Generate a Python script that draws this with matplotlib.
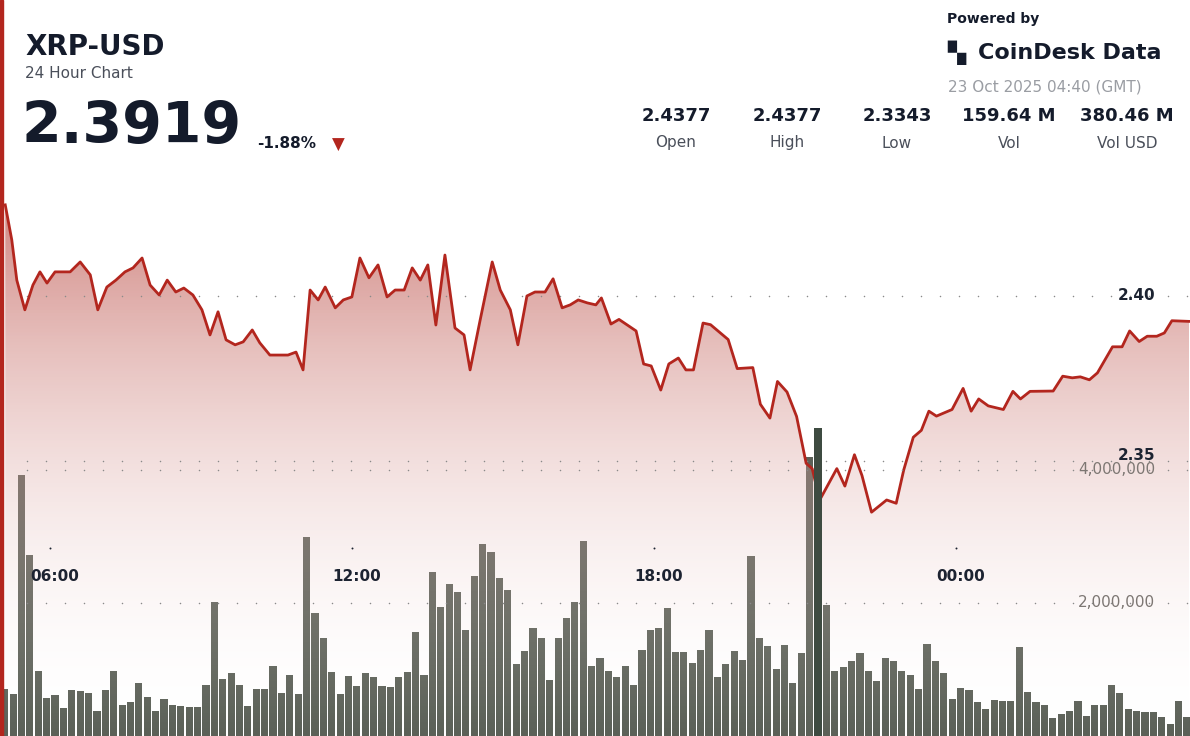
import numpy as np
import matplotlib.pyplot as plt
from matplotlib.patches import Polygon, Rectangle
from matplotlib.colors import LinearSegmentedColormap

# price path: hours since 00:00 22 Oct (values past 24 are next day)
t_price = [5.11, 5.24, 5.34, 5.50, 5.66, 5.80, 5.94, 6.10, 6.26, 6.40, 6.60, 6.80, 6.95, 7.13, 7.31,
           7.49, 7.65, 7.83, 7.99, 8.17, 8.33, 8.50, 8.66, 8.84, 9.02, 9.18, 9.34, 9.50, 9.68, 9.84,
           10.02, 10.17, 10.37, 10.55, 10.73, 10.89, 11.03, 11.17, 11.33, 11.47, 11.67, 11.83, 12.00,
           12.16, 12.34, 12.52, 12.70, 12.86, 13.04, 13.20, 13.36, 13.51, 13.67, 13.85, 14.05, 14.23,
           14.35, 14.55, 14.79, 14.95, 15.15, 15.30, 15.48, 15.64, 15.84, 16.00, 16.18, 16.34, 16.50,
           16.68, 16.85, 16.96, 17.15, 17.31, 17.65, 17.80, 17.95, 18.14, 18.30, 18.49, 18.64, 18.79,
           18.98, 19.13, 19.48, 19.66, 19.97, 20.12, 20.31, 20.46, 20.65, 20.84, 21.03, 21.15, 21.30,
           21.64, 21.80, 21.99, 22.14, 22.33, 22.63, 22.82, 22.97, 23.16, 23.32, 23.47, 23.62, 23.93,
           24.15, 24.31, 24.46, 24.65, 24.95, 25.14, 25.29, 25.48, 25.94, 26.13, 26.32, 26.48, 26.66,
           26.82, 27.12, 27.31, 27.46, 27.65, 27.81, 28.00, 28.15, 28.30, 28.64]
price = [2.4276, 2.4170, 2.4048, 2.3958, 2.4033, 2.4073, 2.4039, 2.4073, 2.4073, 2.4073, 2.4103,
         2.4064, 2.3958, 2.4027, 2.4048, 2.4073, 2.4085, 2.4115, 2.4033, 2.4003, 2.4048, 2.4012,
         2.4024, 2.4003, 2.3958, 2.3882, 2.3952, 2.3867, 2.3852, 2.3861, 2.3897, 2.3858, 2.3821,
         2.3821, 2.3821, 2.3830, 2.3776, 2.4018, 2.3988, 2.4027, 2.3964, 2.3988, 2.3997, 2.4115,
         2.4055, 2.4094, 2.3997, 2.4018, 2.4018, 2.4085, 2.4048, 2.4094, 2.3912, 2.4124, 2.3903,
         2.3882, 2.3776, 2.3927, 2.4103, 2.4018, 2.3958, 2.3852, 2.4000, 2.4012, 2.4012, 2.4052,
         2.3964, 2.3973, 2.3988, 2.3979, 2.3973, 2.3994, 2.3915, 2.3929, 2.3894, 2.3794, 2.3788,
         2.3715, 2.3794, 2.3812, 2.3776, 2.3776, 2.3918, 2.3913, 2.3868, 2.3780, 2.3783, 2.3672,
         2.3630, 2.3741, 2.3709, 2.3635, 2.3493, 2.3477, 2.3382, 2.3477, 2.3424, 2.3519, 2.3456,
         2.3345, 2.3382, 2.3372, 2.3473, 2.3572, 2.3593, 2.3651, 2.3636, 2.3656, 2.3720, 2.3651,
         2.3688, 2.3667, 2.3656, 2.3711, 2.3688, 2.3711, 2.3712, 2.3757, 2.3752, 2.3755, 2.3746,
         2.3767, 2.3846, 2.3846, 2.3894, 2.3862, 2.3878, 2.3878, 2.3888, 2.3925, 2.3923]

# 10-minute volume, millions
volume = [0.70, 0.63, 3.92, 2.72, 0.98, 0.57, 0.61, 0.42, 0.69, 0.67, 0.65, 0.38, 0.69, 0.97, 0.47,
          0.51, 0.79, 0.59, 0.37, 0.55, 0.46, 0.45, 0.43, 0.43, 0.76, 2.02, 0.85, 0.95, 0.77, 0.45,
          0.70, 0.70, 1.05, 0.64, 0.91, 0.63, 2.99, 1.85, 1.48, 0.96, 0.63, 0.90, 0.75, 0.94, 0.88,
          0.75, 0.74, 0.89, 0.96, 1.57, 0.92, 2.47, 1.94, 2.28, 2.16, 1.60, 2.40, 2.88, 2.77, 2.37,
          2.19, 1.09, 1.28, 1.63, 1.48, 0.84, 1.48, 1.78, 2.01, 2.93, 1.05, 1.18,
          0.97, 0.88, 1.05, 0.77, 1.30, 1.60, 1.63, 1.93, 1.27, 1.27, 1.10, 1.30, 1.59, 0.88, 1.09,
          1.28, 1.14, 2.70, 1.47, 1.35, 1.01, 1.37, 0.79, 1.25, 4.20, 4.63, 1.97, 0.97, 1.04, 1.13,
          1.25, 0.98, 0.83, 1.18, 1.13, 0.98, 0.92, 0.70, 1.39, 1.13, 0.94, 0.55, 0.72, 0.69, 0.51,
          0.41, 0.54, 0.53, 0.53, 1.34, 0.66, 0.51, 0.46, 0.27, 0.33, 0.37, 0.53, 0.30, 0.46, 0.46,
          0.76, 0.65, 0.41, 0.37, 0.36, 0.36, 0.29, 0.18, 0.53, 0.29]
t_vol = 5.10 + np.arange(len(volume)) / 6
hover = 97

tick_hours = [6, 12, 18, 24]
tick_labels = ["06:00", "12:00", "18:00", "00:00"]
stats = [("2.4377", "Open"), ("2.4377", "High"), ("2.3343", "Low"),
         ("159.64 M", "Vol"), ("380.46 M", "Vol USD")]
stat_x = [676, 787, 897, 1009, 1127]

W, H = 1190, 736
fig = plt.figure(figsize=(W / 100, H / 100), dpi=100)
fig.patch.set_facecolor("white")
X0, X1 = 5.006, 28.66
PY0, PY1 = 2.2667, 2.4321

axv = fig.add_axes([0, 0, 1, 546 / H])
axv.set_xlim(X0, X1)
axv.set_ylim(0, 8.21)
axv.axis("off")
axv.bar(t_vol, volume, width=0.142, color="#5c6158", zorder=1)

ax = axv.twinx()
ax.set_xlim(X0, X1)
ax.set_ylim(PY0, PY1)
ax.axis("off")
tp = np.array(t_price); pp = np.array(price)
verts = np.column_stack([np.r_[tp[0], tp, tp[-1]], np.r_[PY0, pp, PY0]])
poly = Polygon(verts, closed=True, facecolor="none", edgecolor="none")
ax.add_patch(poly)
grad = np.linspace(0, 1, 256)[:, None]
cmap = LinearSegmentedColormap.from_list("g", [(1, 1, 1, 0), (0.72, 0.27, 0.24, 0.66)])
im = ax.imshow(grad, cmap=cmap, extent=[X0, X1, PY0, 2.43], origin="lower",
               aspect="auto", zorder=2)
im.set_clip_path(poly)
ax.plot(tp, pp, color="#b3261e", lw=2, zorder=4)

ax2 = fig.add_axes(axv.get_position(), sharex=axv, sharey=axv)
ax2.axis("off"); ax2.patch.set_alpha(0)
ax2.bar([t_vol[hover]], [volume[hover]], width=0.142, color="#3e4b41", zorder=5)

gx = np.arange(5.55, X1, 0.378)
for pv in [2.40, 2.35]:
    ax.scatter(gx, [pv] * len(gx), s=1.2, color="#8a8a8a", zorder=3, lw=0)
for vv in [4, 2]:
    ax2.scatter(gx, [vv] * len(gx), s=1.2, color="#8a8a8a", zorder=3, lw=0)
xr = 1155 / W * (X1 - X0) + X0
ax.text(xr, 2.40, "2.40", ha="right", va="center",
        fontsize=11, fontweight="bold", color="#1c2331", zorder=6)
ax.text(xr, 2.3518, "2.35", ha="right", va="center",
        fontsize=11, fontweight="bold", color="#1c2331", zorder=6)
for vv, lab in [(4, "4,000,000"), (2, "2,000,000")]:
    ax2.text(xr, vv, lab, ha="right", va="center",
             fontsize=11, color="#7d7773", zorder=6)
for h, lab in zip(tick_hours, tick_labels):
    ax2.scatter([h], [(736 - 548) / 66.5], s=2, color="#1c2331", lw=0)
    ax2.text(h + 0.1, (736 - 577) / 66.5, lab, ha="center", va="center",
             fontsize=11, fontweight="bold", color="#1c2331")

# left red edge
fig.patches.append(Rectangle((0, 0), 3 / W, 1, transform=fig.transFigure,
                             color="#b3261e", zorder=10))

def ft(x, y, s, **kw):
    fig.text(x / W, 1 - y / H, s, **kw)

dark = "#141b2b"
ft(25, 47, "XRP-USD", fontsize=20, fontweight="bold", color=dark, va="center")
ft(25, 74, "24 Hour Chart", fontsize=11, color="#4a4f5a", va="center")
ft(22, 127, "2.3919", fontsize=41, fontweight="bold", color=dark, va="center")
ft(257, 144, "-1.88%", fontsize=11, fontweight="bold", color=dark, va="center")
ft(338, 145, "\u25BC", fontsize=12, color="#b3261e", va="center", ha="center")
ft(947, 19, "Powered by", fontsize=10, fontweight="bold", color=dark, va="center")
ft(947, 53, "\u259A", fontsize=17, color=dark, va="center")
ft(978, 53, "CoinDesk Data", fontsize=16, fontweight="bold", color=dark, va="center")
ft(948, 87, "23 Oct 2025 04:40 (GMT)", fontsize=11, color="#9a9da3", va="center")
for x, (v, lab) in zip(stat_x, stats):
    ft(x, 116, v, fontsize=13, fontweight="bold", color=dark, ha="center", va="center")
    ft(x, 143, lab, fontsize=11, color="#4a4f5a", ha="center", va="center")

fig.savefig("out.png", dpi=100)
